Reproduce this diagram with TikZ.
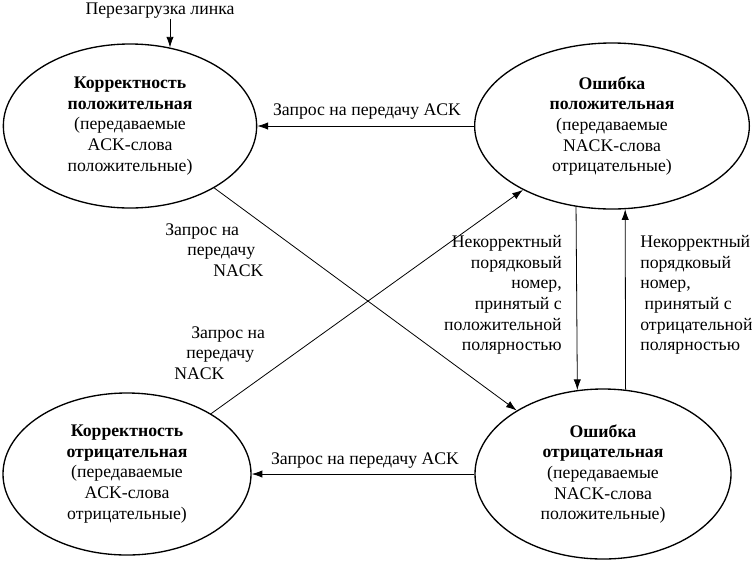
\documentclass[tikz,border=0pt]{standalone}
\usepackage{fontspec}
\setmainfont{Liberation Serif}
\usetikzlibrary{shapes.geometric,arrows.meta}

\begin{document}
\begin{tikzpicture}[x=0.75pt,y=-0.75pt,
  st/.style={draw, ellipse, line width=1pt, inner sep=0pt, align=center,
    font=\fontsize{13.3}{15.5}\selectfont},
  lbl/.style={inner sep=0pt, font=\fontsize{13.3}{15.5}\selectfont},
  arr/.style={-{Latex[length=8pt,width=5.5pt]}, line width=0.6pt}]
\useasboundingbox (0,0) rectangle (752,561);
% states
\node[st, minimum width=190pt, minimum height=123pt] (corpos) at (130,126)
  {\textbf{Корректность}\\\textbf{положительная}\\(передаваемые\\ACK-слова\\положительные)};
\node[st, minimum width=206pt, minimum height=124.5pt] (errpos) at (612,126)
  {\textbf{Ошибка}\\\textbf{положительная}\\(передаваемые\\NACK-слова\\отрицательные)};
\node[st, minimum width=186pt, minimum height=121.5pt] (corneg) at (127,474)
  {\textbf{Корректность}\\\textbf{отрицательная}\\(передаваемые\\ACK-слова\\отрицательные)};
\node[st, minimum width=192pt, minimum height=127.5pt] (errneg) at (603,474)
  {\textbf{Ошибка}\\\textbf{отрицательная}\\(передаваемые\\NACK-слова\\положительные)};
% labels
\node[lbl] (reset) at (160,11) {Перезагрузка линка};
\node[lbl] (ackTop) at (367,112) {Запрос на передачу ACK};
\node[lbl] (ackBot) at (365,461) {Запрос на передачу ACK};
\node[lbl, anchor=north west, align=left] (nackA) at (165,223)
  {Запрос на\\\hspace*{16.5pt}передачу\\\hspace*{36pt}NACK};
\node[lbl, anchor=north west, align=left] (nackB) at (174,326)
  {\hspace*{12.75pt}Запрос на\\\hspace*{9pt}передачу\\NACK};
\node[lbl, anchor=north east, align=right] (wrongPos) at (562,235)
  {Некорректный\\порядковый\\номер,\\принятый с\\положительной\\полярностью};
\node[lbl, anchor=north west, align=left] (wrongNeg) at (640,235)
  {Некорректный\\порядковый\\номер,\\\hspace*{0.25em}принятый с\\отрицательной\\полярностью};
% transitions
\draw[arr] (reset.south -| corpos.63) -- (corpos.63);
\draw[arr] (errpos) -- (corpos);
\draw[arr] (errneg) -- (corneg);
\draw[arr] (corpos) -- (errneg);
\draw[arr] (corneg) -- (errpos);
\draw[arr] (errpos.246) -- (errneg.107);
\draw[arr] (errneg.75) -- (errpos.279);
\end{tikzpicture}
\end{document}
